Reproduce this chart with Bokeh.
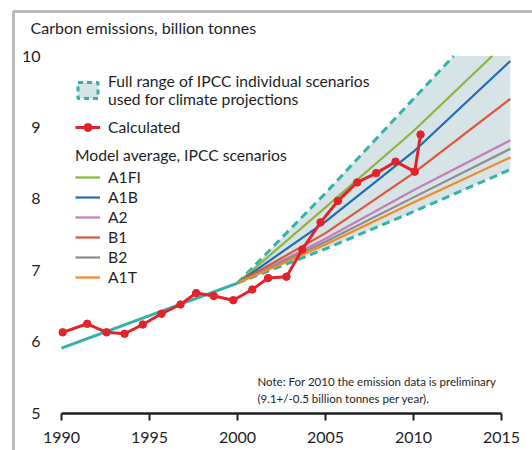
from bokeh.plotting import figure
from bokeh.models import (Range1d, FixedTicker, Legend, LegendItem, Label,
                          LinearAxis, BoxAnnotation)
from bokeh.embed import file_html
from bokeh.resources import INLINE

FONT = "Lato"
INK = "#1e1e1e"
TEAL = "#33b2a8"
RED = "#e3222b"
BAND = "#d6e3e7"

# ---- data ----
# observed / calculated emissions (x = position read on the time axis)
calc_years = [1990.07, 1991.46, 1992.56, 1993.58, 1994.62, 1995.68, 1996.76,
              1997.65, 1998.65, 1999.76, 2000.84, 2001.74, 2002.78, 2003.68,
              2004.72, 2005.70, 2006.80, 2007.88, 2008.98, 2010.07, 2010.40]
calc_values = [6.13, 6.25, 6.13, 6.11, 6.24, 6.39, 6.52,
               6.68, 6.64, 6.58, 6.73, 6.89, 6.91, 7.29,
               7.67, 7.97, 8.23, 8.36, 8.52, 8.38, 8.90]

# model history (teal)
hist_years = [1990, 2000]
hist_values = [5.91, 6.82]

# full range of individual scenarios (dashed bounds; upper one leaves the chart at 10)
low_years = [2000, 2005, 2010, 2015.5]
range_low = [6.82, 7.30, 7.82, 8.41]
high_years = [2000, 2005, 2010, 2012.28]
range_high = [6.82, 8.08, 9.40, 10.0]

# model averages
scenario_names = ["A1FI", "A1B", "A2", "B1", "B2", "A1T"]
scenario_colors = ["#8db43e", "#1f6cb3", "#c47db8", "#e05538", "#8c8c8c", "#f08a24"]
proj_years = [2000, 2005, 2010, 2015.5]
a1fi_years = [2000, 2005, 2010, 2014.47]
scen_A1FI = [6.82, 7.88, 8.95, 10.0]
scen_A1B = [6.82, 7.68, 8.66, 9.93]
scen_A2 = [6.82, 7.44, 8.12, 8.82]
scen_B1 = [6.82, 7.52, 8.36, 9.40]
scen_B2 = [6.82, 7.40, 8.02, 8.70]
scen_A1T = [6.82, 7.36, 7.95, 8.58]
scenario_years = [a1fi_years, proj_years, proj_years, proj_years, proj_years, proj_years]
scenario_values = [scen_A1FI, scen_A1B, scen_A2, scen_B1, scen_B2, scen_A1T]

x_ticks = [1990, 1995, 2000, 2005, 2010, 2015]
y_ticks = [5, 6, 7, 8, 9, 10]

# ---- layout: the plot frame covers the whole canvas, axes sit at fixed spots ----
X0, X1 = 1986.534, 2016.761
Y0, Y1 = 4.475, 10.7775

p = figure(width=532, height=450,
           x_range=Range1d(X0, X1), y_range=Range1d(Y0, Y1),
           x_axis_type=None, y_axis_type=None,
           output_backend="svg", toolbar_location=None,
           min_border=0)
p.outline_line_color = None
p.grid.visible = False
p.background_fill_color = "white"
p.border_fill_color = "white"

# black frame line on the left and top of the panel
p.add_layout(BoxAnnotation(left=1987.273, right=X1 + 1, top=10.623, bottom=Y0 - 1,
                           fill_alpha=0, line_color=INK, line_width=3))

# x axis
xa = LinearAxis(fixed_location=5, ticker=FixedTicker(ticks=x_ticks), bounds=(1990, 2015))
xa.axis_line_width = 2.5
xa.axis_line_color = INK
xa.major_tick_in = 0
xa.major_tick_out = 7
xa.major_tick_line_width = 2
xa.major_tick_line_color = INK
xa.minor_tick_line_color = None
xa.major_label_text_font = FONT
xa.major_label_text_font_size = "16px"
xa.major_label_text_color = INK
xa.major_label_standoff = 12
p.add_layout(xa, "below")

# y axis (labels only)
ya = LinearAxis(fixed_location=1989.375, ticker=FixedTicker(ticks=y_ticks))
ya.axis_line_color = None
ya.major_tick_line_color = None
ya.minor_tick_line_color = None
ya.major_label_text_font = FONT
ya.major_label_text_font_size = "16px"
ya.major_label_text_color = INK
ya.major_label_standoff = 4
p.add_layout(ya, "left")

# shaded full range
band_x = low_years + [low_years[-1]] + high_years[::-1]
band_y = range_low + [range_high[-1]] + range_high[::-1]
p.patch(x=band_x, y=band_y, fill_color=BAND, line_color=None)
p.line(low_years, range_low, color=TEAL, line_width=3, line_dash="8 5")
p.line(high_years, range_high, color=TEAL, line_width=3, line_dash="8 5")
# legend key for the range: same polygon, dashed outline, not drawn on the chart
band_key = p.patch(x=band_x, y=band_y, fill_color=BAND, line_color=TEAL,
                   line_width=3, line_dash="5 4", visible=False)

p.line(hist_years, hist_values, color=TEAL, line_width=3)

scen_renderers = []
for yrs, vals, col in zip(scenario_years, scenario_values, scenario_colors):
    scen_renderers.append(p.line(yrs, vals, color=col, line_width=2.2))

calc_line = p.line(calc_years, calc_values, color=RED, line_width=3)
calc_pts = p.scatter(calc_years, calc_values, size=7.5, color=RED)


def style_legend(lg):
    lg.border_line_alpha = 0
    lg.background_fill_alpha = 0
    lg.inactive_fill_alpha = 0
    lg.padding = 0
    lg.margin = 0
    lg.spacing = 0
    lg.label_standoff = 8
    lg.glyph_width = 25
    lg.glyph_height = 20
    lg.label_height = 20
    lg.label_text_font = FONT
    lg.label_text_font_size = "15.7px"
    lg.label_text_color = INK


legA = Legend(items=[
    LegendItem(label="Full range of IPCC individual scenarios\nused for climate projections",
               renderers=[band_key]),
    LegendItem(label="Calculated", renderers=[calc_line, calc_pts]),
], location=(75, 313))
style_legend(legA)
legA.spacing = 9
p.add_layout(legA)

legB = Legend(items=[LegendItem(label=n, renderers=[r])
                     for n, r in zip(scenario_names, scen_renderers)],
              location=(75, 163), title="Model average, IPCC scenarios")
style_legend(legB)
legB.title_text_font = FONT
legB.title_text_font_size = "15.7px"
legB.title_text_font_style = "normal"
legB.title_text_color = INK
legB.title_standoff = 3
p.add_layout(legB)

p.add_layout(Label(x=30, y=423, x_units="screen", y_units="screen",
                   text="Carbon emissions, billion tonnes", text_baseline="middle",
                   text_font=FONT, text_font_size="16px", text_color=INK))
p.add_layout(Label(x=257, y=69, x_units="screen", y_units="screen",
                   text="Note: For 2010 the emission data is preliminary",
                   text_baseline="middle", text_font=FONT, text_font_size="11.5px",
                   text_color=INK))
p.add_layout(Label(x=257, y=52, x_units="screen", y_units="screen",
                   text="(9.1+/-0.5 billion tonnes per year).",
                   text_baseline="middle", text_font=FONT, text_font_size="11.5px",
                   text_color=INK))

open("out.html", "w").write(file_html(p, INLINE))
